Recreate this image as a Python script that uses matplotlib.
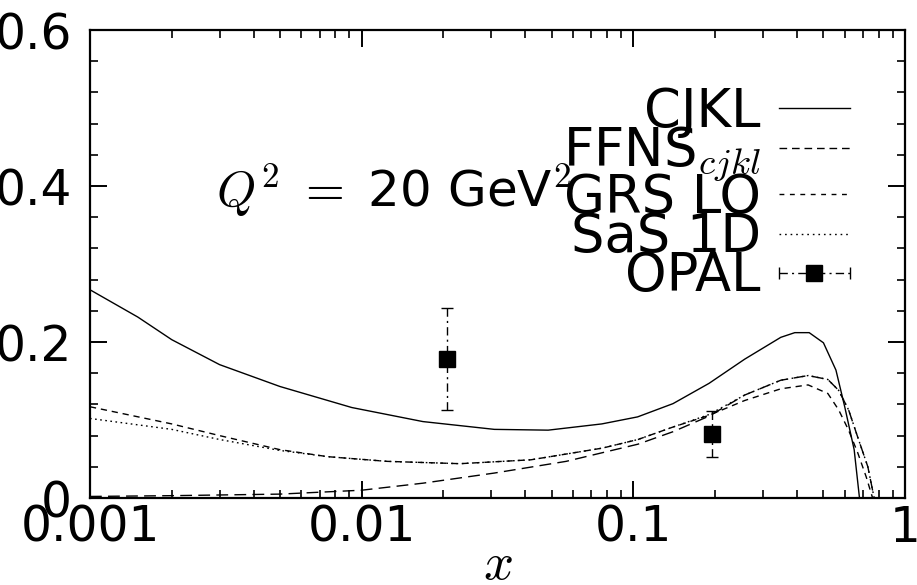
#Gluon-type distributions at Q^2 = 20 GeV^2 : CJKL, FFNS_cjkl, GRS LO, SaS 1D
#compared with OPAL points

import matplotlib.pyplot as plt
import numpy as np
from matplotlib.lines import Line2D
from matplotlib.legend_handler import HandlerLine2D, HandlerTuple
from matplotlib.ticker import FixedLocator, LogLocator, NullFormatter

plt.rcParams['font.family'] = 'DejaVu Sans'
plt.rcParams['mathtext.fontset'] = 'cm'

#curves, read along x (log scale)
x_cjkl = [0.001, 0.0015, 0.002, 0.003, 0.005, 0.0092, 0.0168, 0.0308, 0.0486, 0.0766,
          0.1037, 0.14, 0.19, 0.257, 0.349, 0.393, 0.444, 0.501, 0.557, 0.60, 0.65, 0.68]
y_cjkl = [0.267, 0.232, 0.203, 0.171, 0.143, 0.116, 0.098, 0.088, 0.087, 0.095,
          0.104, 0.121, 0.147, 0.178, 0.206, 0.212, 0.212, 0.199, 0.164, 0.117, 0.062, 0.0]

x_ffns = [0.001, 0.002, 0.005, 0.01, 0.0168, 0.0308, 0.0566, 0.104, 0.14, 0.19,
          0.257, 0.349, 0.44, 0.52, 0.57, 0.62, 0.67, 0.73, 0.77]
y_ffns = [0.002, 0.003, 0.005, 0.010, 0.019, 0.032, 0.047, 0.069, 0.085, 0.105,
          0.132, 0.151, 0.157, 0.152, 0.138, 0.113, 0.078, 0.040, 0.0]

x_grs = [0.001, 0.002, 0.003, 0.005, 0.0075, 0.0124, 0.023, 0.042, 0.077, 0.104, 0.14,
         0.19, 0.257, 0.349, 0.44, 0.52, 0.57, 0.62, 0.67, 0.72, 0.76]
y_grs = [0.117, 0.095, 0.080, 0.062, 0.053, 0.047, 0.044, 0.049, 0.064, 0.075, 0.091,
         0.106, 0.125, 0.140, 0.145, 0.134, 0.113, 0.087, 0.058, 0.027, 0.0]

x_sas = [0.001, 0.002, 0.003, 0.005, 0.0075, 0.0124, 0.023, 0.042, 0.077, 0.104, 0.14,
         0.19, 0.257, 0.349, 0.44, 0.52, 0.57, 0.62, 0.67, 0.73, 0.77]
y_sas = [0.102, 0.088, 0.075, 0.061, 0.053, 0.047, 0.044, 0.049, 0.064, 0.075, 0.091,
         0.107, 0.132, 0.151, 0.157, 0.152, 0.138, 0.113, 0.078, 0.040, 0.0]

#OPAL data points
x_opal = [0.0207, 0.195]
y_opal = [0.178, 0.082]
err_lo = [0.065, 0.029]
err_hi = [0.066, 0.030]

fig = plt.figure(figsize=(9.17, 5.85), dpi=100)
ax = fig.add_axes([0.0981, 0.1487, 0.8888, 0.8])

ax.plot(x_cjkl, y_cjkl, 'k-', lw=1.0)
ax.plot(x_ffns, y_ffns, 'k', lw=1.0, dashes=(8.5, 4.5))
ax.plot(x_grs, y_grs, 'k', lw=1.0, dashes=(4.5, 3.5))
ax.plot(x_sas, y_sas, 'k', lw=1.0, dashes=(1.2, 2.5))

eb = ax.errorbar(x_opal, y_opal, yerr=[err_lo, err_hi], fmt='s', color='k', ms=12,
                 ecolor='k', elinewidth=1.0, capsize=4.5, capthick=1.0)
eb[2][0].set_linestyle((0, (6, 3, 1.5, 3)))

ax.set_xscale('log')
ax.set_xlim(0.001, 1)
ax.set_ylim(0, 0.6)

ax.xaxis.set_major_locator(FixedLocator([0.001, 0.01, 0.1, 1]))
ax.set_xticklabels(['0.001', '0.01', '0.1', '1'])
ax.xaxis.set_minor_locator(LogLocator(base=10, subs=np.arange(2, 10)))
ax.xaxis.set_minor_formatter(NullFormatter())
ax.set_yticks([0, 0.2, 0.4, 0.6])
ax.set_yticklabels(['0', '0.2', '0.4', '0.6'])
ax.set_yticks(np.arange(0, 0.6, 0.04), minor=True)

ax.tick_params(axis='both', which='both', direction='in', top=True, right=True)
ax.tick_params(axis='both', which='major', length=12, width=1.4, labelsize=35)
ax.tick_params(axis='both', which='minor', length=6, width=1.2)
ax.tick_params(axis='y', which='major', pad=13)
ax.tick_params(axis='x', which='major', pad=4)
for s in ax.spines.values():
    s.set_linewidth(1.6)

ax.set_xlabel(r'$x$', fontsize=38, labelpad=-10)
ax.set_ylabel(r'$x\,G^{\gamma}/\alpha$', fontsize=35)
ax.yaxis.set_label_coords(-0.125, 0.5)

ax.text(0.0029, 0.395, r'$Q^2\ =\ $20 GeV$^2$', fontsize=36, va='center', ha='left')

#legend, labels on the left of the line samples
h_cjkl = Line2D([], [], color='k', lw=1.0)
h_ffns = Line2D([], [], color='k', lw=1.0, dashes=(5.5, 3.5))
h_grs = Line2D([], [], color='k', lw=1.0, dashes=(3.5, 4))
h_sas = Line2D([], [], color='k', lw=1.0, dashes=(1.2, 2.8))
h_bar = Line2D([], [], color='k', lw=1.0, ls=(0, (6, 3, 1.5, 3)), marker='|', ms=9,
               mew=1.0)
h_sq = Line2D([], [], color='k', ls='none', marker='s', ms=12)
leg = ax.legend([h_cjkl, h_ffns, h_grs, h_sas, (h_bar, h_sq)],
                ['CJKL', r'FFNS$_{cjkl}$', 'GRS LO', 'SaS 1D', 'OPAL'],
                handler_map={h_bar: HandlerLine2D(numpoints=2, marker_pad=0),
                             h_sq: HandlerLine2D(numpoints=1),
                             tuple: HandlerTuple(ndivide=1, pad=0)},
                loc='upper right', bbox_to_anchor=(0.9325, 0.881), markerfirst=False,
                frameon=False, fontsize=38, handlelength=1.35, handletextpad=0.34,
                labelspacing=-0.24, borderpad=0, borderaxespad=0)
for t in leg.get_texts():
    t.set_ha('right')

fig.savefig('out.png', dpi=100)
